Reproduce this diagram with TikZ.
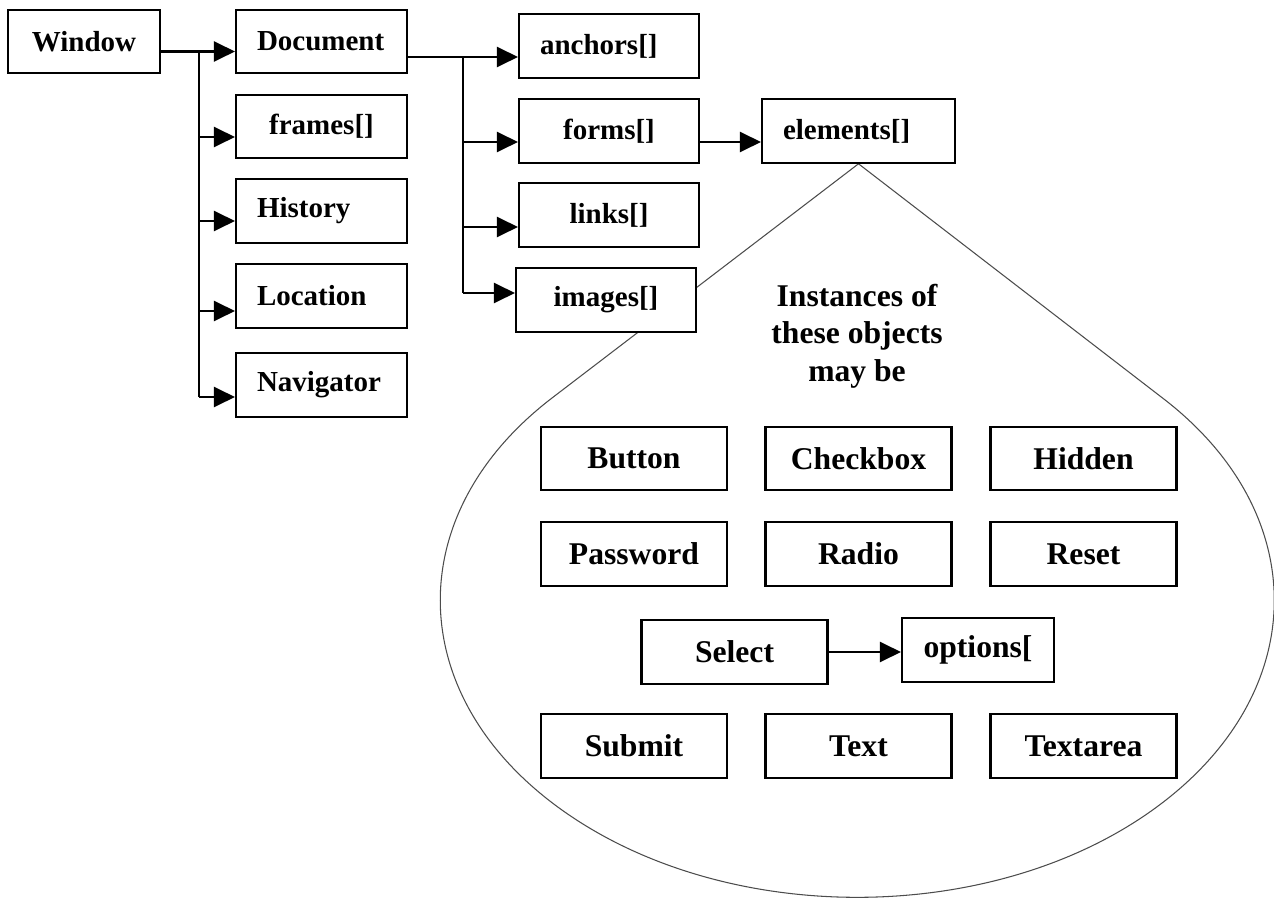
\documentclass[tikz,border=0pt]{standalone}
\usepackage{fontspec}
\setmainfont{Liberation Serif}
\usetikzlibrary{arrows.meta, calc, backgrounds}

\begin{document}
\begin{tikzpicture}[x=0.02cm, y=-0.02cm,
  box/.style={draw, line width=1.2pt, fill=white, minimum height=1.27cm,
    inner sep=0pt, font=\bfseries\fontsize{16.5}{20}\selectfont},
  lbox/.style={box, text width=#1, inner xsep=0.42cm, align=left},
  ibox/.style={box, minimum width=3.72cm, font=\bfseries\fontsize{18}{21}\selectfont},
  arrow/.style={-{Triangle[length=0.42cm, width=0.4cm]}, line width=1.2pt},
  wire/.style={line width=1.2pt},
  drop/.style={draw=black!70, line width=0.6pt}]

  \useasboundingbox (0,0) rectangle (1274,898);

  % window and its children
  \node[box, minimum width=3.04cm] (win) at (84,41.5) {Window};
  \node[lbox=2.58cm] (doc) at (321.5,41.5) {Document};
  \node[box, minimum width=3.42cm] (frm) at (321.5,126.5) {frames[]};
  \node[lbox=2.58cm] (hist) at (321.5,211) {History};
  \node[lbox=2.58cm] (loc) at (321.5,296) {Location};
  \node[lbox=2.58cm] (nav) at (321.5,385) {Navigator};

  % document collections
  \node[lbox=2.76cm] (anc) at (609,46) {anchors[]};
  \node[box, minimum width=3.6cm] (frms) at (609,131) {forms[]};
  \node[box, minimum width=3.6cm] (lnk) at (609,215) {links[]};
  \node[box, minimum width=3.6cm] (img) at (606,300) {images[]};
  \node[lbox=3.02cm] (elem) at (858.5,131) {elements[]};

  \node[align=center, font=\bfseries\fontsize{18}{21.3}\selectfont] (note) at (857,336)
    {Instances of\\these objects\\may be};

  % form element types
  \node[ibox] (btn) at (634,458.5) {Button};
  \node[ibox] (chk) at (858.5,458.5) {Checkbox};
  \node[ibox] (hid) at (1083.5,458.5) {Hidden};
  \node[ibox] (pwd) at (634,554) {Password};
  \node[ibox] (rad) at (858.5,554) {Radio};
  \node[ibox] (rst) at (1083.5,554) {Reset};
  \node[ibox] (sel) at (734.5,652) {Select};
  \node[ibox, minimum width=3.04cm] (opt) at (978,650) {options[};
  \node[ibox] (sub) at (634,746) {Submit};
  \node[ibox] (txt) at (858.5,746) {Text};
  \node[ibox] (tarea) at (1083.5,746) {Textarea};

  % connectors
  \coordinate (j1) at (199,51.5);
  \draw[arrow] ($(win.east)+(0,10)$) -- ($(doc.west)+(0,10)$);
  \draw[wire] (j1) -- ($(j1 |- nav.west)+(0,12)$);
  \foreach \n/\dy in {frm/10.5, hist/10, loc/15, nav/12}
    \draw[arrow] ($(j1 |- \n.west)+(0,\dy)$) -- ($(\n.west)+(0,\dy)$);

  \coordinate (j2) at (463,57);
  \draw[arrow] (doc.east |- j2) -- (anc.west |- j2);
  \draw[wire] (j2) -- ($(j2 |- img.west)+(0,-7)$);
  \foreach \n/\dy in {frms/11, lnk/12, img/-7}
    \draw[arrow] ($(j2 |- \n.west)+(0,\dy)$) -- ($(\n.west)+(0,\dy)$);

  \draw[arrow] ($(frms.east)+(0,11)$) -- ($(elem.west)+(0,11)$);
  \draw[arrow] (sel.east) -- (sel.east -| opt.west);

  % teardrop round the element types
  \begin{scope}[on background layer]
    \draw[drop] (elem.south) -- (552,398)
      arc[start angle=222.94, end angle=-42.94, x radius=417, y radius=297] -- cycle;
  \end{scope}
\end{tikzpicture}
\end{document}
